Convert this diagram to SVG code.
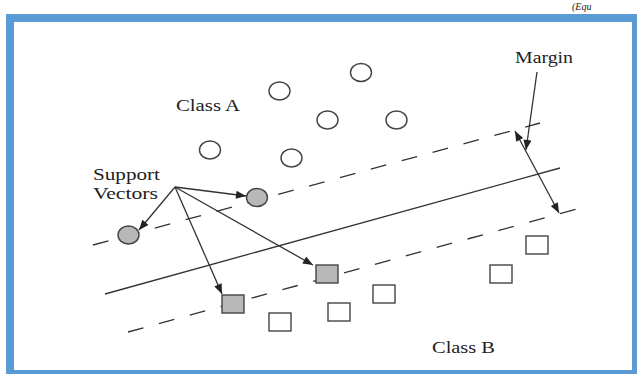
<svg xmlns="http://www.w3.org/2000/svg" width="637" height="374" viewBox="0 0 637 374">
<style>
.lbl{font-family:"Liberation Serif","Times New Roman",serif;font-size:16px;fill:#222}
.pt{fill:#fff;stroke:#444;stroke-width:1.4}
.sv{fill:#b8b8b8;stroke:#444;stroke-width:1.4}
.ln{fill:none;stroke:#333;stroke-width:1.3}
.dash{stroke-dasharray:16 16}
.arr{fill:none;stroke:#333;stroke-width:1.3;marker-end:url(#ah)}
</style>
<defs>
<marker id="ah" viewBox="0 0 10 8" refX="10" refY="4" markerWidth="11" markerHeight="8" orient="auto-start-reverse" markerUnits="userSpaceOnUse">
<path d="M0,0 L10,4 L0,8 z" fill="#222"/>
</marker>
</defs>
<rect x="0" y="0" width="637" height="374" fill="#fff"/>
<text x="572" y="10" font-family="Liberation Serif, serif" font-size="10" font-style="italic" fill="#222">(Equ</text>
<rect x="10" y="18" width="626" height="356" fill="#fff" stroke="#5b9bd5" stroke-width="8"/>

<g id="connectors">
<line class="ln dash" x1="93" y1="245" x2="540" y2="123"/>
<line class="ln" x1="105" y1="294" x2="560" y2="168"/>
<line class="ln dash" x1="128" y1="332" x2="577" y2="209"/>
<line class="arr" x1="537" y1="72" x2="526" y2="150"/>
<line class="arr" x1="515" y1="131" x2="559" y2="213" marker-start="url(#ah)"/>
<line class="arr" x1="175" y1="187" x2="246" y2="196"/>
<line class="arr" x1="175" y1="187" x2="139" y2="230"/>
<line class="arr" x1="175" y1="187" x2="222" y2="294"/>
<line class="arr" x1="175" y1="187" x2="313" y2="265"/>
</g>

<g id="classA">
<ellipse class="pt" cx="361" cy="72.5" rx="10.5" ry="9"/>
<ellipse class="pt" cx="279.5" cy="91" rx="10.5" ry="9"/>
<ellipse class="pt" cx="327.5" cy="120" rx="10.5" ry="9"/>
<ellipse class="pt" cx="396.5" cy="120" rx="10.5" ry="9"/>
<ellipse class="pt" cx="210" cy="150" rx="10.5" ry="9"/>
<ellipse class="pt" cx="291.5" cy="158" rx="10.5" ry="9"/>
</g>
<g id="sv-circles">
<ellipse class="sv" cx="257" cy="197.5" rx="10.5" ry="9"/>
<ellipse class="sv" cx="128.5" cy="235" rx="10.5" ry="9"/>
</g>
<g id="sv-squares">
<rect class="sv" x="316" y="265" width="22" height="18"/>
<rect class="sv" x="222" y="295" width="22" height="18"/>
</g>
<g id="classB">
<rect class="pt" x="526" y="236" width="22" height="18"/>
<rect class="pt" x="490" y="265" width="22" height="18"/>
<rect class="pt" x="373" y="285" width="22" height="18"/>
<rect class="pt" x="328" y="303" width="22" height="18"/>
<rect class="pt" x="269" y="313" width="22" height="18"/>
</g>

<g id="label-classA"><text class="lbl" x="176" y="110.5" textLength="64" lengthAdjust="spacingAndGlyphs">Class A</text></g>
<g id="label-margin"><text class="lbl" x="515" y="63" textLength="58" lengthAdjust="spacingAndGlyphs">Margin</text></g>
<g id="label-support">
<text class="lbl" x="93" y="180" textLength="67" lengthAdjust="spacingAndGlyphs">Support</text>
<text class="lbl" x="93" y="198.5" textLength="65" lengthAdjust="spacingAndGlyphs">Vectors</text>
</g>
<g id="label-classB"><text class="lbl" x="432" y="352.5" textLength="63" lengthAdjust="spacingAndGlyphs">Class B</text></g>
</svg>
